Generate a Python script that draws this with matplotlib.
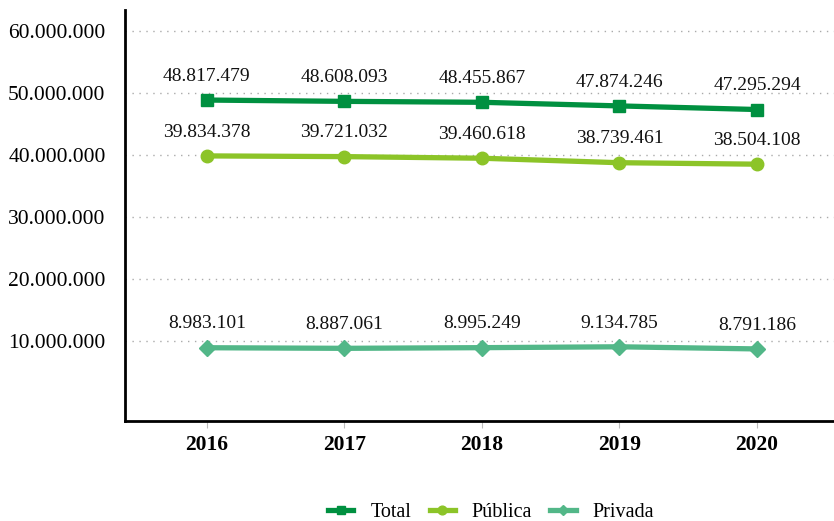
import matplotlib.pyplot as plt

plt.rcParams['font.family'] = ['Liberation Serif', 'DejaVu Serif']

years = ['2016', '2017', '2018', '2019', '2020']
total = [48817479, 48608093, 48455867, 47874246, 47295294]
publica = [39834378, 39721032, 39460618, 38739461, 38504108]
privada = [8983101, 8887061, 8995249, 9134785, 8791186]
yticks = [10000000, 20000000, 30000000, 40000000, 50000000, 60000000]


def fmt(v):
    return f"{v:,}".replace(",", ".")


fig = plt.figure(figsize=(8.34, 5.21), dpi=100)
ax = fig.add_axes([125 / 834, 100 / 521, 709 / 834, 411 / 521])

x = list(range(len(years)))
series = [
    ('Total', total, '#009040', 's', 8),
    ('Pública', publica, '#8CC428', 'o', 9),
    ('Privada', privada, '#52B788', 'D', 8),
]
for name, vals, col, mk, ms in series:
    ax.plot(x, vals, color=col, lw=3.8, marker=mk, markersize=ms, label=name, zorder=3)
    for xi, v in zip(x, vals):
        ax.annotate(fmt(v), (xi, v), xytext=(0, 11), textcoords='offset points',
                    ha='center', va='bottom', fontsize=14, color='#111111')

ax.set_xlim(-0.595, 4.56)
ax.set_ylim(-2800000, 63300000)
ax.set_yticks(yticks)
ax.set_yticklabels([fmt(v) for v in yticks], fontsize=15.5)
ax.set_xticks(x)
ax.set_xticklabels(years, fontsize=15.5, fontweight='bold')
ax.grid(axis='y', linestyle=(0, (1, 4)), color='#aaaaaa', lw=1)
ax.tick_params(axis='y', length=0, pad=14)
ax.tick_params(axis='x', length=5, color='#bbbbbb', pad=5)
for s in ['top', 'right']:
    ax.spines[s].set_visible(False)
ax.spines['left'].set_linewidth(2)
ax.spines['bottom'].set_linewidth(2)

fig.legend(loc='lower center', bbox_to_anchor=(0.589, -0.036), ncol=3, frameon=False,
           fontsize=14.5, handlelength=1.25, handletextpad=0.85, columnspacing=0.9,
           markerscale=0.7)

fig.savefig('out.png', dpi=100)
